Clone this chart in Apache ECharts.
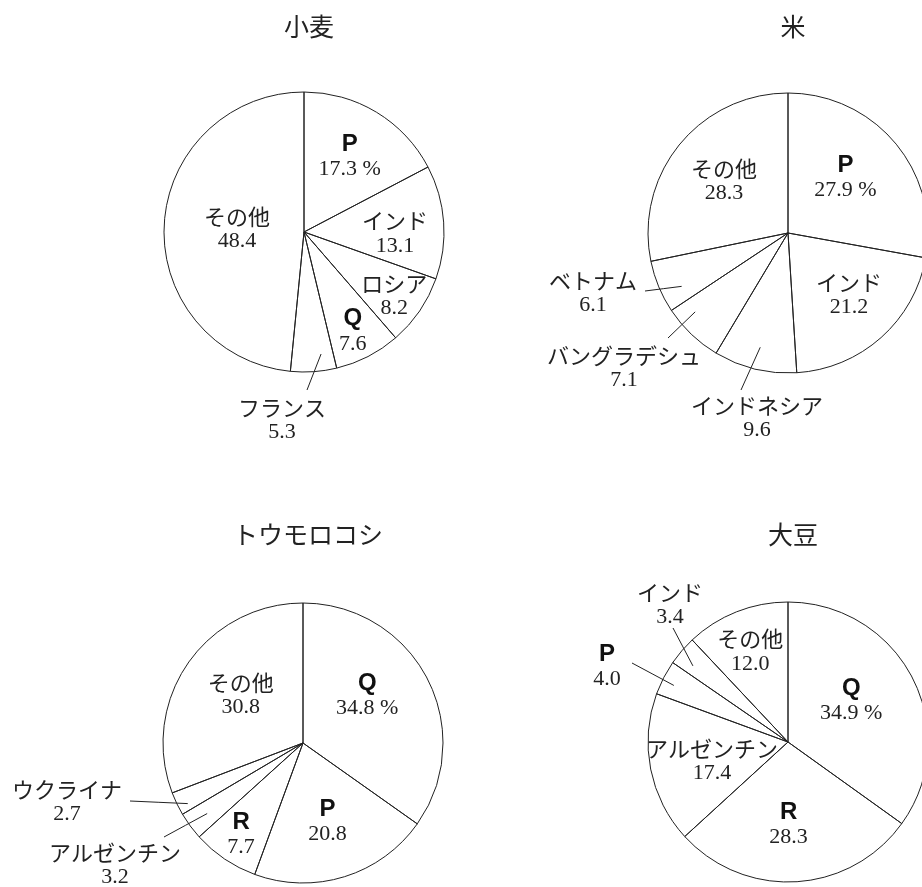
<!DOCTYPE html>
<html>
<head>
<meta charset="utf-8">
<script src="https://cdn.jsdelivr.net/npm/echarts@6/dist/echarts.min.js"></script>
<style>
html, body { margin: 0; padding: 0; background: #fff; }
#chart { width: 922px; height: 887px; }
</style>
</head>
<body>
<div id="chart"></div>
<script>
// 小麦
const wheatNames = ['P', 'インド', 'ロシア', 'Q', 'フランス', 'その他'];
const wheatValues = [17.3, 13.1, 8.2, 7.6, 5.3, 48.4];
// 米
const riceNames = ['P', 'インド', 'インドネシア', 'バングラデシュ', 'ベトナム', 'その他'];
const riceValues = [27.9, 21.2, 9.6, 7.1, 6.1, 28.3];
// トウモロコシ
const cornNames = ['Q', 'P', 'R', 'アルゼンチン', 'ウクライナ', 'その他'];
const cornValues = [34.8, 20.8, 7.7, 3.2, 2.7, 30.8];
// 大豆
const soyNames = ['Q', 'R', 'アルゼンチン', 'P', 'インド', 'その他'];
const soyValues = [34.9, 28.3, 17.4, 4.0, 3.4, 12.0];

const titles = ['小麦', '米', 'トウモロコシ', '大豆'];
const nameSets = [wheatNames, riceNames, cornNames, soyNames];
const valueSets = [wheatValues, riceValues, cornValues, soyValues];

// layout
const R = 140;
const centers = [[304, 232], [788, 233], [303, 743], [788, 742]];
const titleTops = [9, 9, 517, 517];
// inside label: [radius ratio, angle shift]
// outside label: leader line start (ratio, shift), line end and label centre as offsets from pie centre
const placements = [
  [[0.63, 0], [0.65, 5], [0.79, 1], [0.79, 1],
   { line: [0.88, -4], end: [3, 158], at: [-22, 188] }, [0.48, 0]],
  [[0.57, -4], [0.62, -3],
   { line: [0.84, 0], end: [-47, 157], at: [-31, 185] },
   { line: [0.87, 6], end: [-120, 105], at: [-164, 135] },
   { line: [0.85, -4], end: [-143, 58], at: [-195, 60] }, [0.59, 0]],
  [[0.57, -9], [0.59, 0], [0.79, 0],
   { line: [0.85, 0], end: [-139, 94], at: [-188, 122] },
   { line: [0.93, -2], end: [-173, 58], at: [-236, 59] }, [0.56, 3]],
  [[0.54, -6], [0.59, 3], [0.56, -3],
   { line: [0.91, -1], end: [-156, -79], at: [-181, -75] },
   { line: [0.87, -2], end: [-115, -114], at: [-118, -137] }, [0.70, -1]]
];

function makeLayout(k) {
  const values = valueSets[k];
  const total = values.reduce((a, b) => a + b, 0);
  const mids = [];
  let acc = 0;
  values.forEach(v => { mids.push((acc + v / 2) / total * 360); acc += v; });
  const cx = centers[k][0], cy = centers[k][1];
  const polar = (deg, r) => {
    const t = deg * Math.PI / 180;
    return [cx + r * Math.sin(t), cy - r * Math.cos(t)];
  };
  return function (params) {
    const i = params.dataIndex;
    const p = placements[k][i];
    if (Array.isArray(p)) {
      const pt = polar(mids[i] + p[1], p[0] * R);
      return { x: pt[0], y: pt[1], align: 'center', verticalAlign: 'middle' };
    }
    const start = polar(mids[i] + p.line[1], p.line[0] * R);
    const end = [cx + p.end[0], cy + p.end[1]];
    const mid = [(start[0] + end[0]) / 2, (start[1] + end[1]) / 2];
    return {
      x: cx + p.at[0], y: cy + p.at[1], align: 'center', verticalAlign: 'middle',
      labelLinePoints: [start, mid, end]
    };
  };
}

const rich = {
  b: { fontFamily: 'Liberation Sans', fontWeight: 'bold', fontSize: 24, lineHeight: 25, color: '#111' },
  n: { fontFamily: 'Noto Sans CJK JP', fontSize: 22, lineHeight: 25, color: '#222' },
  v: { fontFamily: 'Liberation Serif', fontSize: 22, lineHeight: 25, color: '#222' }
};

function labelText(p) {
  const nm = /^[PQR]$/.test(p.name) ? '{b|' + p.name + '}' : '{n|' + p.name + '}';
  const val = p.value.toFixed(1) + (p.dataIndex === 0 ? ' %' : '');
  return nm + '\n{v|' + val + '}';
}

const chart = echarts.init(document.getElementById('chart'));
chart.setOption({
  animation: false,
  backgroundColor: '#fff',
  title: titles.map((t, k) => ({
    text: t,
    left: centers[k][0],
    top: titleTops[k],
    textAlign: 'center',
    textStyle: { fontFamily: 'Noto Sans CJK JP', fontWeight: 'normal', fontSize: 25, color: '#222' }
  })),
  series: titles.map((t, k) => ({
    type: 'pie',
    name: t,
    center: centers[k],
    radius: R,
    startAngle: 90,
    clockwise: true,
    avoidLabelOverlap: false,
    silent: true,
    emphasis: { disabled: true },
    itemStyle: { color: 'rgba(255,255,255,0)', borderColor: '#222', borderWidth: 1 },
    label: { show: true, position: 'outside', formatter: labelText, rich: rich },
    labelLine: { show: true, length: 10, length2: 10, lineStyle: { color: '#222', width: 1 } },
    labelLayout: makeLayout(k),
    data: nameSets[k].map((n, i) => ({
      name: n,
      value: valueSets[k][i],
      labelLine: { show: !Array.isArray(placements[k][i]) }
    }))
  }))
});
</script>
</body>
</html>
